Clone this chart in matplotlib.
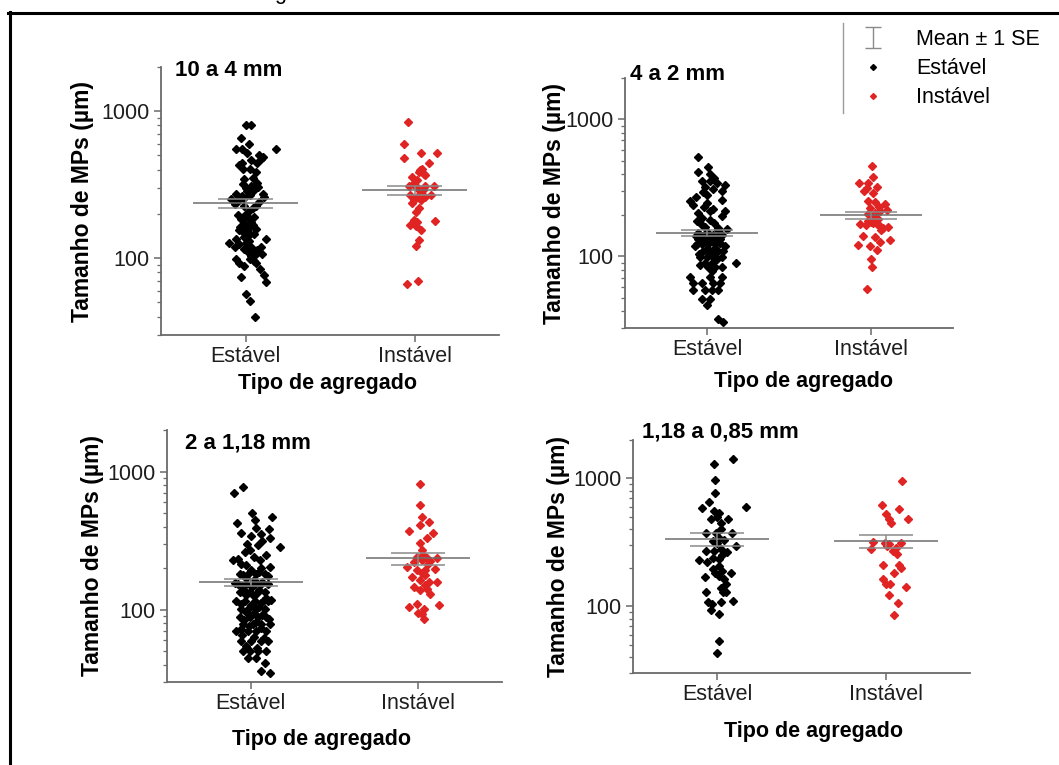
import numpy as np
import matplotlib
matplotlib.use("Agg")
import matplotlib.pyplot as plt
from matplotlib.lines import Line2D
from matplotlib.ticker import LogLocator, FuncFormatter, NullFormatter

plt.rcParams["font.family"] = ["Liberation Sans", "DejaVu Sans"]

categories = ["Estável", "Instável"]
titles = ["10 a 4 mm", "4 a 2 mm", "2 a 1,18 mm", "1,18 a 0,85 mm"]

# tamanho (µm) e deslocamento horizontal (jitter) de cada ponto
p1_est_val = [800, 800, 662, 597, 551, 551, 523, 551, 441, 464, 489, 470, 441, 407, 407, 387,
              354, 327, 322, 309, 293, 298, 272, 303, 275, 255, 251, 269, 260, 248, 226, 226,
              218, 196, 201, 186, 181, 191, 172, 168, 159, 159, 151, 147, 140, 136, 136, 126,
              124, 126, 119, 110, 110, 119, 106, 106, 98, 92, 88, 98, 92, 84, 77, 75, 69, 57,
              51, 40, 190, 175, 162, 145, 130, 115, 210, 240, 285, 345, 430, 500, 113, 103,
              155, 185, 235, 265, 120, 96]
p1_est_off = [0.0, 0.034, -0.026, 0.018, -0.055, -0.022, 0.01, 0.182, -0.022, 0.034, 0.106,
              0.089, 0.069, -0.016, 0.024, 0.063, 0.043, 0.069, -0.016, 0.034, 0.053, 0.004,
              0.103, 0.073, -0.055, -0.006, -0.085, 0.024, 0.112, -0.036, -0.006, 0.063, 0.043,
              -0.045, 0.004, 0.024, -0.016, 0.053, -0.006, 0.043, 0.014, 0.063, -0.016, 0.024,
              -0.006, -0.055, 0.122, -0.095, -0.036, 0.004, 0.034, 0.014, 0.043, 0.093, 0.099,
              0.063, -0.055, -0.036, -0.01, 0.024, 0.063, 0.083, 0.112, -0.026, 0.122, 0.004,
              0.024, 0.057, 0.0, 0.03, -0.03, 0.05, 0.02, -0.01, 0.02, 0.08, 0.01, -0.01, -0.04,
              0.08, 0.07, 0.03, -0.04, -0.025, -0.06, -0.02, -0.06, 0.05]
p1_ins_val = [845, 594, 523, 484, 516, 441, 407, 387, 357, 367, 340, 309, 309, 309, 309, 293,
              268, 261, 261, 268, 268, 248, 236, 221, 206, 181, 168, 165, 155, 180, 133, 121,
              67, 70, 375, 290, 250, 175, 400, 320]
p1_ins_off = [-0.037, -0.063, 0.036, -0.063, 0.134, 0.085, 0.045, 0.026, -0.014, 0.065, 0.016,
              -0.034, 0.006, 0.114, 0.065, 0.026, -0.024, 0.016, 0.065, 0.1, 0.036, -0.004,
              -0.014, 0.026, 0.006, -0.004, -0.024, 0.006, 0.036, 0.124, 0.026, 0.006, -0.047,
              0.022, 0.055, 0.05, 0.04, 0.015, 0.03, -0.01]

p2_est_val = [527, 451, 415, 399, 357, 352, 323, 333, 297, 302, 309, 252, 245, 259, 238, 207,
              213, 222, 213, 196, 180, 168, 185, 157, 162, 144, 144, 144, 144, 133, 133, 133,
              133, 119, 122, 122, 122, 122, 109, 109, 109, 109, 99, 99, 99, 99, 90, 90, 90, 83,
              83, 83, 71, 71, 71, 64, 64, 64, 64, 57, 57, 57, 57, 49, 49, 44, 35, 33, 150, 138,
              128, 115, 104, 95, 175, 190, 155, 140, 112, 102, 86, 78, 135, 126, 118, 165, 230,
              280, 340, 375, 270, 148]
p2_est_off = [-0.057, 0.008, -0.053, 0.018, -0.033, 0.018, -0.012, 0.11, -0.022, 0.089, 0.039,
              -0.104, -0.002, 0.089, -0.083, -0.053, 0.018, 0.039, 0.11, 0.089, -0.063, -0.033,
              0.018, 0.12, 0.069, -0.043, -0.002, 0.039, 0.089, -0.053, -0.012, 0.028, 0.079,
              0.11, -0.033, 0.008, 0.049, -0.063, -0.022, 0.018, 0.069, 0.1, -0.043, -0.002,
              0.039, 0.089, -0.012, 0.028, 0.177, 0.008, 0.089, 0.049, -0.104, 0.018, 0.089,
              -0.083, -0.033, 0.039, 0.079, -0.083, -0.012, 0.028, 0.069, -0.033, 0.018, -0.002,
              0.069, 0.095, 0.0, 0.02, -0.02, 0.05, -0.05, 0.06, 0.04, -0.03, 0.07, -0.07,
              -0.005, 0.045, -0.04, 0.03, 0.06, 0.08, -0.075, -0.01, -0.02, 0.0, 0.06, 0.04,
              -0.07, -0.055]
p2_ins_val = [456, 382, 342, 342, 315, 320, 302, 252, 248, 242, 225, 213, 216, 207, 185, 180,
              173, 176, 166, 162, 171, 164, 140, 139, 131, 127, 120, 119, 112, 95, 83, 58, 195,
              178, 188, 168, 205, 290, 230, 155]
p2_ins_off = [0.004, 0.014, -0.016, -0.071, -0.026, 0.035, -0.043, -0.016, 0.024, 0.085,
              -0.006, 0.055, 0.096, 0.024, -0.006, -0.016, -0.067, 0.014, 0.055, 0.075, 0.035,
              0.106, -0.047, 0.024, 0.116, 0.055, -0.081, -0.006, 0.035, -0.002, 0.004, -0.022,
              0.01, 0.0, 0.045, -0.03, -0.02, 0.01, 0.05, 0.06]

p3_est_val = [700, 773, 499, 467, 422, 446, 381, 360, 341, 356, 285, 328, 293, 228, 234, 262,
              270, 228, 204, 210, 182, 182, 182, 182, 177, 154, 154, 154, 154, 154, 134, 134,
              134, 134, 116, 116, 116, 116, 116, 101, 101, 101, 101, 88, 88, 88, 88, 79, 79, 79,
              79, 70, 70, 70, 70, 59, 59, 59, 59, 50, 50, 50, 50, 45, 45, 41, 36, 35, 195, 188,
              170, 165, 160, 148, 145, 140, 128, 125, 122, 110, 108, 105, 96, 94, 92, 84, 82, 76,
              74, 66, 64, 62, 55, 53, 240, 250, 215, 300, 315, 390, 200, 175, 155, 118, 86, 72,
              138, 112]
p3_est_off = [-0.102, -0.046, 0.01, 0.124, -0.08, 0.024, 0.109, -0.056, 0.004, 0.064, 0.173,
              0.113, 0.044, -0.106, -0.076, -0.036, -0.006, 0.054, 0.113, -0.026, -0.066, -0.016,
              0.034, 0.084, -0.046, -0.076, -0.026, 0.024, 0.064, 0.104, -0.066, -0.006, 0.044,
              0.084, -0.086, -0.036, 0.024, 0.074, 0.104, -0.056, -0.016, 0.034, 0.084, -0.066,
              -0.006, 0.044, 0.094, -0.046, 0.014, 0.064, 0.114, -0.086, -0.016, 0.034, 0.094,
              -0.056, 0.004, 0.064, 0.104, -0.046, -0.006, 0.044, 0.094, -0.016, 0.034, 0.084,
              0.064, 0.114, 0.0, 0.05, -0.03, 0.02, 0.07, -0.05, 0.01, 0.05, -0.03, 0.02, 0.09,
              -0.06, 0.0, 0.05, -0.03, 0.02, 0.07, -0.04, 0.03, -0.01, 0.06, -0.05, 0.02, 0.08,
              -0.03, 0.04, 0.02, 0.09, -0.06, -0.02, 0.07, 0.03, 0.06, 0.1, -0.095, 0.12, 0.11,
              -0.06, -0.04, 0.06]
p3_ins_val = [817, 574, 472, 434, 410, 373, 360, 328, 302, 270, 241, 238, 238, 221, 228, 225,
              204, 193, 195, 196, 174, 177, 165, 158, 158, 146, 138, 142, 130, 104, 110, 101,
              109, 93, 86, 250, 185, 150, 95, 215]
p3_ins_off = [0.012, 0.008, 0.022, 0.062, 0.012, -0.058, 0.088, 0.052, 0.012, 0.022, -0.008,
              0.052, 0.112, -0.028, 0.022, 0.072, -0.068, -0.008, 0.042, 0.102, -0.038, 0.042,
              0.012, 0.062, 0.112, -0.028, 0.012, 0.052, 0.068, -0.058, -0.008, 0.032, 0.122,
              0.022, 0.032, 0.03, 0.02, 0.04, 0.0, 0.06]

p4_est_val = [1432, 1303, 981, 764, 658, 583, 601, 556, 533, 484, 478, 451, 404, 372, 372, 372,
              344, 324, 330, 296, 270, 270, 279, 266, 240, 236, 229, 222, 207, 195, 183, 181,
              173, 168, 162, 149, 129, 129, 129, 109, 108, 107, 104, 94, 87, 53, 43, 310, 250,
              190, 140, 500]
p4_est_off = [0.091, -0.018, -0.012, -0.012, -0.047, -0.091, 0.17, -0.022, 0.012, -0.038,
              0.061, 0.022, 0.022, -0.008, -0.067, 0.087, 0.012, -0.028, 0.042, 0.111, -0.067,
              -0.018, 0.022, 0.057, -0.028, 0.012, -0.111, -0.063, 0.012, -0.028, -0.012, 0.081,
              0.012, -0.071, 0.042, 0.051, 0.032, -0.067, 0.051, 0.095, 0.022, -0.057, -0.032,
              -0.038, 0.008, 0.012, -0.004, 0.0, 0.03, 0.03, 0.02, 0.0]
p4_ins_val = [953, 615, 573, 478, 524, 484, 451, 318, 314, 305, 314, 282, 287, 255, 270, 296,
              209, 209, 200, 183, 162, 150, 150, 142, 123, 106, 86]
p4_ins_off = [0.095, -0.02, 0.079, 0.135, 0.0, 0.02, 0.03, -0.073, -0.006, 0.02, 0.089, -0.089,
              0.059, 0.069, 0.045, 0.01, -0.014, 0.079, 0.089, 0.049, -0.016, 0.0, 0.026, 0.119,
              0.02, 0.073, 0.049]

# média e erro padrão (Estável, Instável)
means = [[236, 289], [149, 200], [158, 235], [336, 324]]
ses = [[18, 21], [7.5, 11.5], [10, 23], [40, 37]]

W, H = 1059, 765


def fx(x):
    return x / W


def fy(y):
    return 1 - y / H


red = "#e02424"
fig = plt.figure(figsize=(W / 100, H / 100), dpi=100)

# posicoes em pixels: (esq, topo, dir, base), titulo, ylabel x, xlabel (x, y)
layout = [((161, 67, 499, 335), (175, 70), 83, (327, 384)),
          ((625, 78, 953, 328), (630, 75), 555, (803, 381)),
          ((167, 430, 502, 682), (185, 443), 93, (322, 739)),
          ((633, 440, 970, 673), (642, 432), 558, (814, 731))]
points = [(p1_est_val, p1_est_off, p1_ins_val, p1_ins_off),
          (p2_est_val, p2_est_off, p2_ins_val, p2_ins_off),
          (p3_est_val, p3_est_off, p3_ins_val, p3_ins_off),
          (p4_est_val, p4_est_off, p4_ins_val, p4_ins_off)]

axes = []
for i in range(4):
    (l, t, r, b), tpos, ylx, xlpos = layout[i]
    ax = fig.add_axes([fx(l), fy(b), (r - l) / W, (b - t) / H])
    axes.append(ax)
    ev, eo, iv, io = points[i]
    ax.plot(1 + np.array(eo), ev, "D", color="black", ms=3.9, ls="none", zorder=2)
    ax.plot(2 + np.array(io), iv, "D", color=red, ms=3.9, ls="none", zorder=2)
    for x, m, s in zip([1, 2], means[i], ses[i]):
        ax.hlines(m, x - 0.31, x + 0.31, color="#6e6e6e", lw=1.1, zorder=4)
        ax.hlines([m - s, m + s], x - 0.16, x + 0.16, color="#8a8a8a", lw=1.1, zorder=4)
        ax.vlines(x, m - s, m + s, color="#8a8a8a", lw=1.1, zorder=4)
    ax.set_yscale("log")
    ax.set_ylim(30, 2000)
    ax.set_xlim(0.5, 2.5)
    ax.set_xticks([1, 2], categories)
    ax.yaxis.set_major_locator(LogLocator(base=10))
    ax.yaxis.set_major_formatter(FuncFormatter(lambda v, p: "{:g}".format(v)))
    ax.yaxis.set_minor_formatter(NullFormatter())
    for side in ["top", "right"]:
        ax.spines[side].set_visible(False)
    for side in ["left", "bottom"]:
        ax.spines[side].set_color("#6a6a6a")
        ax.spines[side].set_linewidth(1.3)
    ax.tick_params(axis="both", which="major", direction="out", length=5, width=1.1,
                   color="#6a6a6a", labelsize=15.5, labelcolor="#1e1e1e", pad=3)
    ax.tick_params(axis="y", which="minor", direction="out", length=3, width=0.9,
                   color="#6a6a6a")
    ax.tick_params(axis="x", pad=3)
    fig.text(fx(tpos[0]), fy(tpos[1]), titles[i], fontsize=16, fontweight="bold",
             ha="left", va="center")
    fig.text(fx(ylx), fy((t + b) / 2), "Tamanho de MPs (µm)", fontsize=16.5,
             fontweight="bold", rotation=90, ha="center", va="center")
    fig.text(fx(xlpos[0]), fy(xlpos[1]), "Tipo de agregado", fontsize=15.5,
             fontweight="bold", ha="center", va="center")

# legenda
eb = axes[1].errorbar([np.nan], [np.nan], yerr=[1], fmt="none", ecolor="#8a8a8a",
                      elinewidth=1, capsize=6)
h_est = Line2D([], [], marker="D", color="black", ls="none", ms=3)
h_ins = Line2D([], [], marker="D", color=red, ls="none", ms=3)
fig.legend([eb, h_est, h_ins], ["Mean ± 1 SE", "Estável", "Instável"],
           loc="upper left", bbox_to_anchor=(fx(858), fy(29)), frameon=False,
           fontsize=15.5, handlelength=1.4, handletextpad=1.3, labelspacing=0.38,
           borderaxespad=0, borderpad=0)
fig.add_artist(Line2D([fx(843), fx(843)], [fy(23), fy(113)], color="#9a9a9a", lw=1))

# moldura
fig.add_artist(Line2D([fx(8), 1], [fy(12.5), fy(12.5)], color="black", lw=2.2))
fig.add_artist(Line2D([fx(9.5), fx(9.5)], [fy(12), 0], color="black", lw=2.2))
fig.text(fx(280), 1 + 1 / H, "g", fontsize=15.5, ha="center", va="baseline")

fig.savefig("out.png", dpi=100)
